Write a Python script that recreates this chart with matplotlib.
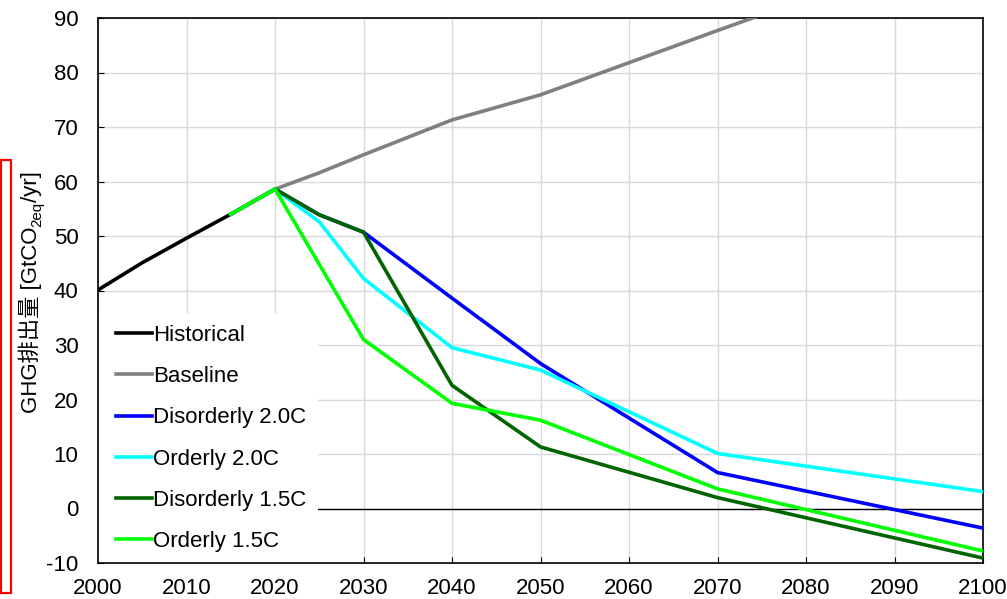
import matplotlib
matplotlib.use("Agg")
import matplotlib.pyplot as plt
from matplotlib.patches import Rectangle

plt.rcParams['font.family'] = ['Liberation Sans', 'Noto Sans CJK JP', 'DejaVu Sans']
plt.rcParams['axes.unicode_minus'] = False

hist_years = [2000, 2005, 2010, 2015]
hist_vals = [40.1, 45.1, 49.6, 54.0]

base_years = [2015, 2020, 2025, 2030, 2040, 2050, 2060, 2070, 2080, 2090, 2100]
base_vals = [54.0, 58.6, 61.6, 64.9, 71.3, 75.9, 81.8, 87.7, 93.5, 99.0, 104.0]

dis20_years = [2015, 2020, 2025, 2030, 2040, 2050, 2070, 2100]
dis20_vals = [54.0, 58.6, 53.9, 50.7, 38.6, 26.6, 6.6, -3.6]

ord20_years = [2015, 2020, 2025, 2030, 2040, 2050, 2070, 2100]
ord20_vals = [54.0, 58.6, 52.6, 42.2, 29.5, 25.4, 10.1, 3.1]

dis15_years = [2015, 2020, 2025, 2030, 2040, 2050, 2070, 2100]
dis15_vals = [54.0, 58.6, 53.9, 50.7, 22.6, 11.3, 2.0, -9.1]

ord15_years = [2015, 2020, 2030, 2040, 2050, 2070, 2100]
ord15_vals = [54.0, 58.6, 31.0, 19.3, 16.2, 3.6, -7.8]

W, H = 1007, 599
FS = 16
fig = plt.figure(figsize=(W / 100, H / 100), dpi=100)
ax = fig.add_axes([98 / W, 36 / H, 885 / W, 545 / H])

lw = 2.6
ax.plot(hist_years, hist_vals, color='black', lw=lw, label='Historical', zorder=3)
ax.plot(base_years, base_vals, color='#808080', lw=lw, label='Baseline', zorder=3)
ax.plot(dis20_years, dis20_vals, color='#0000FF', lw=lw, label='Disorderly 2.0C', zorder=3)
ax.plot(ord20_years, ord20_vals, color='#00FFFF', lw=lw, label='Orderly 2.0C', zorder=3)
ax.plot(dis15_years, dis15_vals, color='#006400', lw=lw, label='Disorderly 1.5C', zorder=3)
ax.plot(ord15_years, ord15_vals, color='#00FF00', lw=lw, label='Orderly 1.5C', zorder=3)

ax.axhline(0, color='black', lw=1.0, zorder=2)

ax.set_xlim(2000, 2100)
ax.set_ylim(-10, 90)
ax.set_xticks(range(2000, 2101, 10))
ax.set_yticks(range(-10, 91, 10))
ax.grid(True, color='#d9d9d9', lw=1.0, zorder=0)
ax.set_axisbelow(True)
ax.tick_params(direction='in', length=4, labelsize=FS)
ax.tick_params(axis='x', pad=11)
ax.tick_params(axis='y', pad=14)
for s in ax.spines.values():
    s.set_linewidth(1.2)
    s.set_color('black')

# white legend box covering grid
ax.add_patch(Rectangle((0, 0), (318 - 98) / 885, (563 - 313) / 545, transform=ax.transAxes,
                       facecolor='white', edgecolor='none', zorder=2.5))

leg = ax.legend(loc='upper left', bbox_to_anchor=((116 - 98) / 885, (563 - 325) / 545),
                borderaxespad=0, borderpad=0, frameon=False, fontsize=FS,
                handlelength=1.62, handletextpad=0.05, labelspacing=0.91)
leg.set_zorder(5)

# y label built from pieces (rotated), with a subscript "2eq"
renderer = fig.canvas.get_renderer()
parts = [("GHG排出量 [GtCO", FS, 0), ("2eq", FS * 0.68, 4), ("/yr]", FS, 0)]
texts = []
for s, fs, dx in parts:
    t = fig.text(0, 0, s, fontsize=fs, rotation=90, rotation_mode='anchor',
                 ha='left', va='baseline')
    texts.append((t, dx))
lengths = [t.get_window_extent(renderer).height for t, _ in texts]
total = sum(lengths)
x_base = 37
y = (H - 292) - total / 2
for (t, dx), L in zip(texts, lengths):
    t.set_position(((x_base + dx) / W, y / H))
    y += L

rect = Rectangle((0.5 / W, (H - 593) / H), 10.5 / W, 433 / H, transform=fig.transFigure,
                 fill=False, edgecolor='#FF0000', lw=1.6, clip_on=False)
fig.patches.append(rect)

fig.savefig('out.png', dpi=100)
